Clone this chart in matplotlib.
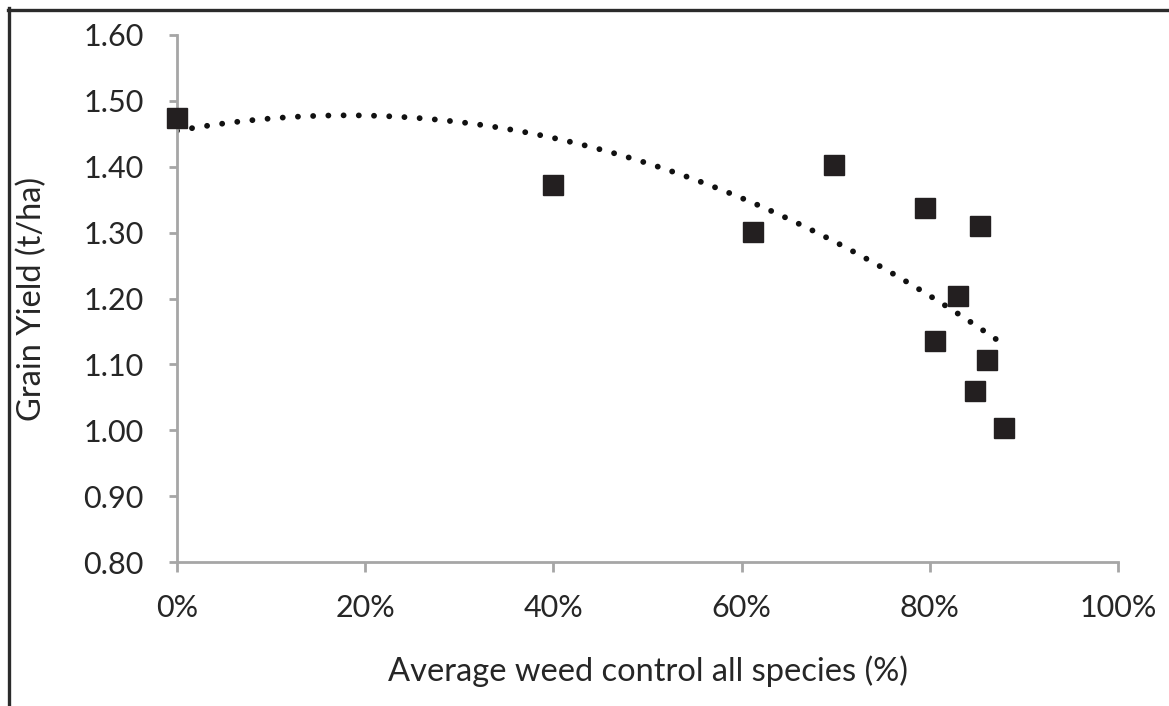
import numpy as np
from matplotlib import pyplot as plt
from matplotlib.lines import Line2D
from matplotlib.ticker import FuncFormatter

# weed control (fraction) vs grain yield (t/ha)
weed_control = [0.0, 0.40, 0.612, 0.698, 0.795, 0.853, 0.830, 0.806, 0.861, 0.848, 0.879]
grain_yield = [1.474, 1.373, 1.301, 1.403, 1.337, 1.310, 1.204, 1.135, 1.107, 1.060, 1.003]

x_ticks = [0.0, 0.2, 0.4, 0.6, 0.8, 1.0]
y_ticks = [0.80, 0.90, 1.00, 1.10, 1.20, 1.30, 1.40, 1.50, 1.60]

plt.rcParams['font.family'] = ['Lato', 'DejaVu Sans']
axis_grey = '#a6a6a6'
text_col = '#262626'

fig = plt.figure(figsize=(11.69, 7.06), dpi=100)
ax = fig.add_axes([177 / 1169, 1 - 562 / 706, (1118 - 177) / 1169, (562 - 35) / 706])

# 2nd order polynomial trendline
coef = np.polyfit(weed_control, grain_yield, 2)
xs = np.linspace(0, max(weed_control), 200)
ax.plot(xs, np.polyval(coef, xs), color='#111111', linewidth=4.2,
        linestyle=(0, (0.01, 2.6)), dash_capstyle='round', zorder=2)

ax.plot(weed_control, grain_yield, linestyle='none', marker='s', markersize=14,
        color='#231f20', zorder=3, clip_on=False)

ax.set_xlim(0, 1.0)
ax.set_ylim(0.80, 1.60)
ax.set_xticks(x_ticks)
ax.set_yticks(y_ticks)
ax.xaxis.set_major_formatter(FuncFormatter(lambda v, p: '{:.0f}%'.format(v * 100)))
ax.yaxis.set_major_formatter(FuncFormatter(lambda v, p: '{:.2f}'.format(v)))

for s in ['top', 'right']:
    ax.spines[s].set_visible(False)
for s in ['left', 'bottom']:
    ax.spines[s].set_color(axis_grey)
    ax.spines[s].set_linewidth(2)
ax.tick_params(axis='both', direction='out', color=axis_grey, width=2,
               labelsize=22, labelcolor=text_col)
ax.tick_params(axis='y', length=6, pad=18)
ax.tick_params(axis='x', length=7, pad=16)

ax.set_xlabel('Average weed control all species (%)', fontsize=23.5, color=text_col, labelpad=24)
ax.set_ylabel('Grain Yield (t/ha)', fontsize=23.5, color=text_col, labelpad=26)

# outer border (top and left only)
fig.add_artist(Line2D([8 / 1169, 1], [1 - 9.5 / 706] * 2, transform=fig.transFigure,
                      color='#2b2b2b', linewidth=2.4))
fig.add_artist(Line2D([9 / 1169] * 2, [0, 1 - 8 / 706], transform=fig.transFigure,
                      color='#2b2b2b', linewidth=2.4))

fig.savefig('out.png', dpi=100)
